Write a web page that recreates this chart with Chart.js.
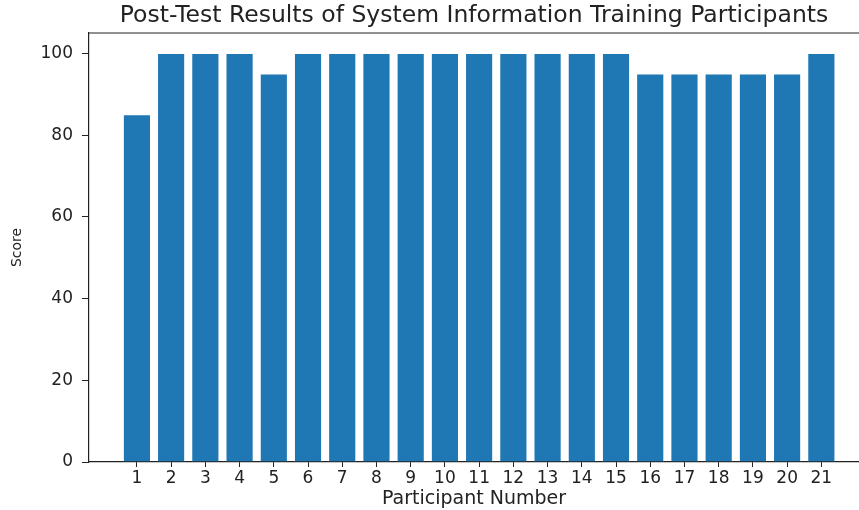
<!DOCTYPE html>
<html>
<head>
<meta charset="utf-8">
<script src="https://cdn.jsdelivr.net/npm/chart.js@4/dist/chart.umd.min.js"></script>
<style>
  html, body { margin: 0; padding: 0; background: #fff; }
  #wrap { width: 859px; height: 510px; }
</style>
</head>
<body>
<div id="wrap"><canvas id="chart" width="859" height="510"></canvas></div>
<script>
// participants and their post-test scores
const participants = [1, 2, 3, 4, 5, 6, 7, 8, 9, 10, 11, 12, 13, 14, 15, 16, 17, 18, 19, 20, 21];
const scores = [85, 100, 100, 100, 95, 100, 100, 100, 100, 100, 100, 100, 100, 100, 100, 95, 95, 95, 95, 95, 100];
const yTicks = [0, 20, 40, 60, 80, 100];

const ink = "#222222";
const barBlue = "#1f77b4";
const face = "'DejaVu Sans', 'Verdana', sans-serif";

// matplotlib style top spine (no right spine, the picture is cut there)
const topSpine = {
  id: "topSpine",
  afterDraw(chart) {
    const { ctx, chartArea } = chart;
    ctx.save();
    ctx.strokeStyle = ink;
    ctx.lineWidth = 1.2;
    ctx.beginPath();
    ctx.moveTo(chartArea.left, chartArea.top);
    ctx.lineTo(chartArea.right, chartArea.top);
    ctx.stroke();
    ctx.restore();
  },
};

let config = {
  type: "bar",
  data: {
    datasets: [
      {
        label: "Score",
        data: participants.map((p, i) => ({ x: p, y: scores[i] })),
        backgroundColor: barBlue,
        borderColor: "rgba(255,255,255,0.6)",
        borderWidth: 0.6,
        barPercentage: 0.8,
        categoryPercentage: 1,
      },
    ],
  },
  options: {
    responsive: false,
    animation: false,
    layout: { padding: { top: 0, right: 0, left: 0, bottom: 0 } },
    plugins: {
      legend: { display: false },
      tooltip: { enabled: false },
      title: {
        display: true,
        fullSize: false, // center over the plot area, not the whole canvas
        text: "Post-Test Results of System Information Training Participants",
        color: ink,
        font: { family: face, size: 23.5, weight: "normal", lineHeight: 1.2 },
        padding: { top: 2, bottom: 2.8 },
      },
    },
    scales: {
      x: {
        type: "linear",
        min: -0.4,
        max: 22.1,
        offset: false,
        afterBuildTicks: (scale) => {
          scale.ticks = participants.map((v) => ({ value: v }));
        },
        afterFit: (scale) => {
          scale.height = 48;
        },
        grid: { offset: false, drawOnChartArea: false, drawTicks: true, tickLength: 5, color: ink },
        border: { color: ink, width: 1.2 },
        ticks: {
          color: ink,
          autoSkip: false,
          maxRotation: 0,
          padding: 1,
          font: { family: face, size: 17 },
          callback: (v) => String(v),
        },
        title: {
          display: true,
          text: "Participant Number",
          color: ink,
          font: { family: face, size: 19 },
          padding: { top: 0, bottom: 0 },
        },
      },
      y: {
        min: 0,
        max: 105,
        afterBuildTicks: (scale) => {
          scale.ticks = yTicks.map((v) => ({ value: v }));
        },
        afterFit: (scale) => {
          scale.width = 89;
        },
        grid: { drawOnChartArea: false, drawTicks: true, tickLength: 7, color: ink },
        border: { color: ink, width: 1.2 },
        ticks: {
          color: ink,
          padding: 9,
          font: { family: face, size: 17 },
        },
        title: {
          display: true,
          text: "Score",
          color: ink,
          font: { family: face, size: 14 },
          padding: { top: 9, bottom: 0 },
        },
      },
    },
  },
  plugins: [topSpine],
};

let chartCanvas = document.getElementById("chart");
new Chart(chartCanvas, config);
</script>
</body>
</html>
